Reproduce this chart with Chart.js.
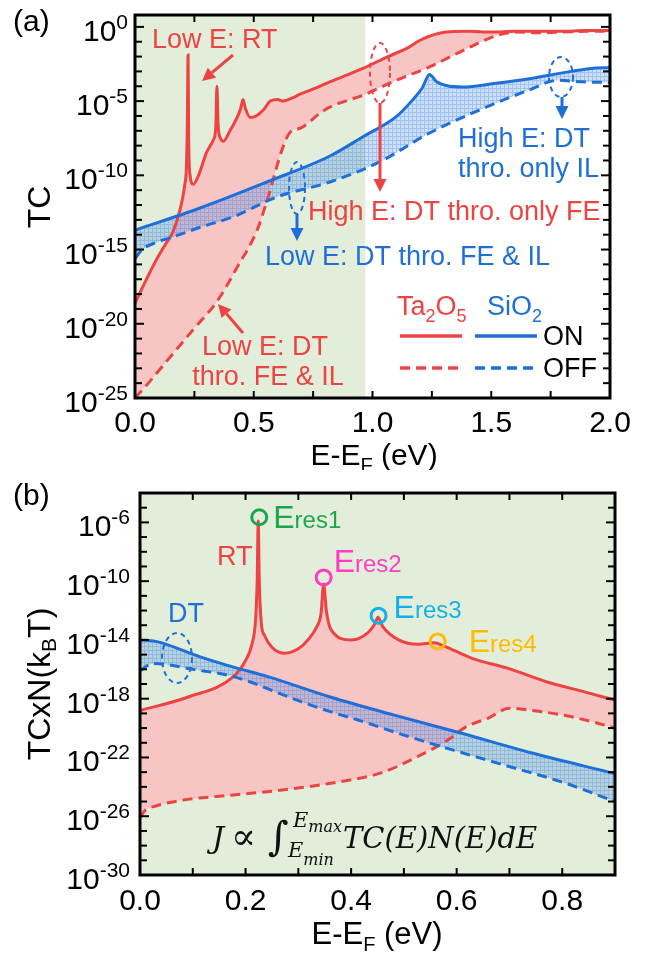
<!DOCTYPE html>
<html>
<head>
<meta charset="utf-8">
<title>TC vs E-EF</title>
<script src="https://cdn.jsdelivr.net/npm/chart.js@4.4.1/dist/chart.umd.min.js"></script>
<style>
  html, body { margin: 0; padding: 0; background: #fff; }
  body { width: 658px; height: 958px; position: relative; overflow: hidden; }
  canvas { position: absolute; left: 0; }
  #chartA { top: 0; }
  #chartB { top: 470px; }
</style>
</head>
<body>
<canvas id="chartA" width="658" height="470"></canvas>
<canvas id="chartB" width="658" height="488"></canvas>
<script>
// ---- panel (a): E-EF (eV) y log10(TC) ----
const eTaOnA = [0, 0.03, 0.07, 0.10, 0.13, 0.16, 0.19, 0.21, 0.216, 0.220, 0.2235, 0.226, 0.232, 0.245, 0.27, 0.30, 0.33, 0.340, 0.345, 0.350, 0.36, 0.372, 0.40, 0.43, 0.445, 0.455, 0.465, 0.485, 0.51, 0.54, 0.57, 0.60, 0.625, 0.66, 0.70, 0.765, 0.82, 0.90, 0.96, 1.065, 1.15, 1.20, 1.31, 1.40, 1.50, 1.60, 1.70, 1.80, 1.90, 2.00];
const logTaOnA = [-18.6, -17.6, -16.3, -15.4, -14.6, -13.8, -12.3, -10.6, -9.6, -7.0, -1.9, -7.5, -10.0, -10.6, -9.9, -8.5, -7.6, -6.8, -4.0, -6.6, -7.5, -7.7, -7.0, -6.1, -5.5, -4.9, -5.5, -6.1, -6.0, -5.6, -5.0, -4.9, -5.0, -4.8, -4.5, -4.1, -3.7, -3.2, -2.8, -2.0, -1.4, -0.9, -0.35, -0.3, -0.35, -0.3, -0.3, -0.3, -0.25, -0.25];
const eTaOffA = [0, 0.04, 0.15, 0.25, 0.345, 0.43, 0.514, 0.556, 0.623, 0.653, 0.70, 0.78, 0.82, 0.96, 1.10, 1.24, 1.38, 1.52, 1.61, 1.70, 1.80, 1.90, 2.00];
const logTaOffA = [-25.0, -24.3, -22.2, -20.3, -18.5, -16.2, -13.7, -11.7, -8.1, -7.1, -6.8, -5.8, -5.4, -4.6, -3.6, -2.7, -1.6, -0.6, -0.35, -0.4, -0.35, -0.3, -0.3];
const eSiOnA = [0, 0.274, 0.555, 0.821, 0.96, 1.10, 1.17, 1.21, 1.24, 1.27, 1.31, 1.38, 1.52, 1.66, 1.80, 1.92, 2.00];
const logSiOnA = [-13.7, -12.2, -10.45, -8.7, -7.4, -6.05, -4.9, -4.1, -3.2, -3.7, -3.95, -4.05, -3.8, -3.5, -3.1, -2.8, -2.75];
const eSiOffA = [0, 0.03, 0.093, 0.16, 0.274, 0.413, 0.598, 0.821, 1.03, 1.24, 1.45, 1.66, 1.78, 1.88, 2.00];
const logSiOffA = [-15.6, -15.0, -14.5, -14.15, -13.5, -12.8, -11.45, -10.45, -9.1, -7.15, -5.6, -4.25, -3.6, -3.7, -3.75];

// ---- panel (b): E-EF (eV) y log10(TC x N) ----
const eTaOnB = [0, 0.09, 0.177, 0.20, 0.212, 0.219, 0.222, 0.224, 0.226, 0.23, 0.236, 0.25, 0.273, 0.30, 0.318, 0.335, 0.343, 0.348, 0.353, 0.362, 0.40, 0.432, 0.445, 0.451, 0.46, 0.49, 0.527, 0.558, 0.575, 0.629, 0.699, 0.775, 0.844, 0.90];
const logTaOnB = [-18.8, -17.9, -16.5, -15.4, -14.3, -12.6, -10.0, -5.9, -10.0, -12.9, -13.7, -14.5, -14.9, -14.6, -14.0, -13.1, -12.2, -10.2, -12.0, -13.3, -14.0, -13.5, -12.9, -12.45, -13.1, -14.0, -14.3, -14.2, -14.4, -15.25, -15.95, -16.9, -17.55, -18.1];
const eTaOffB = [0, 0.01, 0.03, 0.082, 0.177, 0.273, 0.362, 0.457, 0.52, 0.584, 0.616, 0.661, 0.70, 0.743, 0.806, 0.86, 0.90];
const logTaOffB = [-26.1, -25.6, -25.3, -24.9, -24.55, -24.2, -23.75, -23.05, -22.05, -20.8, -19.95, -19.3, -18.65, -18.8, -19.15, -19.6, -20.0];
const eSiOnB = [0, 0.03, 0.114, 0.177, 0.242, 0.362, 0.48, 0.604, 0.743, 0.90];
const logSiOnB = [-14.0, -14.1, -15.15, -15.85, -16.5, -17.9, -19.1, -20.3, -21.7, -23.1];
const eSiOffB = [0, 0.025, 0.1, 0.177, 0.305, 0.362, 0.413, 0.489, 0.584, 0.679, 0.806, 0.90];
const logSiOffB = [-16.1, -15.6, -16.0, -16.5, -18.2, -18.9, -19.45, -20.35, -21.4, -22.4, -23.75, -25.0];

// resonancias marcadas en (b)
const eRes = [0.226, 0.348, 0.452, 0.564];
const logRes = [-5.65, -9.75, -12.35, -14.1];
const resNames = ['res1', 'res2', 'res3', 'res4'];
const resColors = ['#1ca64c', '#ff3cc3', '#16b0e8', '#ffbb00'];

// ticks
const xLabelsA = [0, 0.5, 1.0, 1.5, 2.0];
const xTicksA = [0.25, 0.5, 0.75, 1.0, 1.25, 1.5, 1.75];
const yLabelsA = [0, -5, -10, -15, -20, -25];
const xLabelsB = [0, 0.2, 0.4, 0.6, 0.8];
const xTicksB = [0.1, 0.2, 0.3, 0.4, 0.5, 0.6, 0.7, 0.8];
const yLabelsB = [-6, -10, -14, -18, -22, -26, -30];

const RED = '#ee4343';
const BLUE = '#1f6fd8';
const GREEN_BG = 'rgb(226,238,218)';
const PINK = 'rgb(248,197,197)';
const FONT = '"Liberation Sans", Arial, sans-serif';
const SERIF = '"DejaVu Serif", "Liberation Serif", serif';

function font(size) { return size + 'px ' + FONT; }

function pts(xs, logs) {
    return xs.map((x, i) => ({ x: x, y: Math.pow(10, logs[i]) }));
}

// Texto con subindices / superindices
function rich(ctx, x, y, parts, align) {
    let w = 0;
    parts.forEach(p => { ctx.font = p.f; p.w = ctx.measureText(p.t).width; w += p.w; });
    let cx = align === 'center' ? x - w / 2 : align === 'right' ? x - w : x;
    ctx.textAlign = 'left';
    ctx.textBaseline = 'alphabetic';
    parts.forEach(p => {
        ctx.font = p.f;
        ctx.fillStyle = p.c || '#000';
        ctx.fillText(p.t, cx, y + (p.dy || 0));
        cx += p.w;
    });
}

function vtext(ctx, x, y, parts) {
    ctx.save();
    ctx.translate(x, y);
    ctx.rotate(-Math.PI / 2);
    rich(ctx, 0, 0, parts, 'center');
    ctx.restore();
}

function line(ctx, x1, y1, x2, y2) {
    ctx.beginPath(); ctx.moveTo(x1, y1); ctx.lineTo(x2, y2); ctx.stroke();
}

function arrow(ctx, x1, y1, x2, y2, color) {
    const ang = Math.atan2(y2 - y1, x2 - x1), hl = 13, hw = 6.5;
    const bx = x2 - hl * Math.cos(ang), by = y2 - hl * Math.sin(ang);
    ctx.strokeStyle = color; ctx.fillStyle = color; ctx.lineWidth = 3; ctx.setLineDash([]);
    line(ctx, x1, y1, bx, by);
    ctx.beginPath();
    ctx.moveTo(x2, y2);
    ctx.lineTo(bx + hw * Math.sin(ang), by - hw * Math.cos(ang));
    ctx.lineTo(bx - hw * Math.sin(ang), by + hw * Math.cos(ang));
    ctx.closePath();
    ctx.fill();
}

function ellipse(ctx, cx, cy, rx, ry, color) {
    ctx.strokeStyle = color; ctx.lineWidth = 2; ctx.setLineDash([5, 4]);
    ctx.beginPath(); ctx.ellipse(cx, cy, rx, ry, 0, 0, Math.PI * 2); ctx.stroke();
    ctx.setLineDash([]);
}

// Patron cuadriculado para el relleno azul
function hatch(canvasId) {
    const t = document.createElement('canvas');
    t.width = 4; t.height = 4;
    const c = t.getContext('2d');
    c.fillStyle = 'rgba(60,130,230,0.25)';
    c.fillRect(0, 0, 4, 4);
    c.fillStyle = 'rgba(60,130,230,0.32)';
    c.fillRect(0, 0, 4, 1);
    c.fillRect(0, 1, 1, 3);
    return document.getElementById(canvasId).getContext('2d').createPattern(t, 'repeat');
}

// Fondo verde, marco, ticks hacia dentro, etiquetas y anotaciones
function axesPlugin(cfg) {
    return {
        id: 'ejes',
        beforeDraw(chart) {
            const { ctx, chartArea: a } = chart;
            const xr = chart.scales.x.getPixelForValue(cfg.greenTo);
            ctx.save();
            ctx.fillStyle = GREEN_BG;
            ctx.fillRect(a.left, a.top, xr - a.left, a.height);
            ctx.restore();
        },
        afterDraw(chart) {
            const { ctx, chartArea: a } = chart;
            const xs = chart.scales.x, ys = chart.scales.y;
            ctx.save();
            ctx.strokeStyle = '#000';
            ctx.lineWidth = 2;
            ctx.setLineDash([]);
            cfg.xTicks.forEach(v => {
                const px = xs.getPixelForValue(v);
                line(ctx, px, a.bottom, px, a.bottom - 7);
                line(ctx, px, a.top, px, a.top + 7);
            });
            for (let e = cfg.yMin; e <= cfg.yMax; e++) {
                const py = ys.getPixelForValue(Math.pow(10, e));
                const L = cfg.yLabels.includes(e) ? 9 : 7;
                line(ctx, a.left, py, a.left + L, py);
                line(ctx, a.right, py, a.right - L, py);
            }
            ctx.lineWidth = 3;
            ctx.strokeRect(a.left, a.top, a.width, a.height);

            cfg.xLabels.forEach(v => {
                rich(ctx, xs.getPixelForValue(v), cfg.xLabelY, [{ t: v.toFixed(1), f: font(30) }], 'center');
            });
            cfg.yLabels.forEach(e => {
                const py = ys.getPixelForValue(Math.pow(10, e));
                rich(ctx, cfg.yLabelX, py + 14, [
                    { t: '10', f: font(30) },
                    { t: String(e), f: font(21), dy: -12 }
                ], 'right');
            });
            cfg.draw(ctx, chart);
            ctx.restore();
        }
    };
}

function lineSet(data, color, dashed, fill, bg) {
    return {
        data: data,
        borderColor: color,
        borderWidth: 3,
        borderDash: dashed ? [10, 6] : [],
        pointRadius: 0,
        cubicInterpolationMode: 'monotone',
        fill: fill || false,
        backgroundColor: bg || 'transparent'
    };
}

function baseOptions(padding, xMax, yMin, yMax) {
    return {
        responsive: false,
        animation: false,
        devicePixelRatio: 1,
        layout: { padding: padding },
        plugins: {
            legend: { display: false },
            tooltip: { enabled: false },
            // todos los rellenos antes que las lineas
            filler: { propagate: false, drawTime: 'beforeDatasetsDraw' }
        },
        scales: {
            x: { type: 'linear', min: 0, max: xMax, display: false },
            y: { type: 'logarithmic', min: yMin, max: yMax, display: false }
        }
    };
}

// ---------------- Panel (a) ----------------
function drawA(ctx) {
    rich(ctx, 13, 31, [{ t: '(a)', f: font(30) }]);
    rich(ctx, 152, 48, [{ t: 'Low E: RT', f: font(27), c: RED }]);
    arrow(ctx, 233, 55, 202, 81, RED);
    ellipse(ctx, 380, 73, 10, 30, RED);
    arrow(ctx, 380, 103, 380, 192, RED);
    rich(ctx, 308, 220, [{ t: 'High E: DT thro. only FE', f: font(27), c: RED }]);
    ellipse(ctx, 561, 77, 12, 20, BLUE);
    arrow(ctx, 562, 97, 562, 119, BLUE);
    rich(ctx, 458, 147, [{ t: 'High E: DT', f: font(27), c: BLUE }]);
    rich(ctx, 458, 177, [{ t: 'thro. only IL', f: font(27), c: BLUE }]);
    ellipse(ctx, 297, 188, 8, 26, BLUE);
    arrow(ctx, 297, 214, 297, 241, BLUE);
    rich(ctx, 265, 265, [{ t: 'Low E: DT thro. FE & IL', f: font(27), c: BLUE }]);
    rich(ctx, 265, 355, [{ t: 'Low E: DT', f: font(27), c: RED }], 'center');
    rich(ctx, 268, 385, [{ t: 'thro. FE & IL', f: font(27), c: RED }], 'center');
    arrow(ctx, 243, 333, 218, 304, RED);

    // leyenda
    rich(ctx, 397, 315, [
        { t: 'Ta', f: font(27), c: RED }, { t: '2', f: font(18), c: RED, dy: 7 },
        { t: 'O', f: font(27), c: RED }, { t: '5', f: font(18), c: RED, dy: 7 }
    ]);
    rich(ctx, 487, 315, [
        { t: 'SiO', f: font(27), c: BLUE }, { t: '2', f: font(18), c: BLUE, dy: 7 }
    ]);
    ctx.lineWidth = 3.5;
    ctx.strokeStyle = RED; line(ctx, 400, 336, 462, 336);
    ctx.strokeStyle = BLUE; line(ctx, 475, 336, 537, 336);
    ctx.setLineDash([10, 6]);
    ctx.strokeStyle = RED; line(ctx, 400, 368, 462, 368);
    ctx.strokeStyle = BLUE; line(ctx, 475, 368, 537, 368);
    ctx.setLineDash([]);
    rich(ctx, 543, 345, [{ t: 'ON', f: font(27) }]);
    rich(ctx, 543, 377, [{ t: 'OFF', f: font(27) }]);

    // titulos de ejes
    rich(ctx, 374, 465, [
        { t: 'E-E', f: font(30) }, { t: 'F', f: font(20), dy: 7 }, { t: ' (eV)', f: font(30) }
    ], 'center');
    vtext(ctx, 50, 207, [{ t: 'TC', f: font(32) }]);
}

const chartA = new Chart(document.getElementById('chartA'), {
    type: 'line',
    data: {
        datasets: [
            lineSet(pts(eSiOnA, logSiOnA), BLUE, false, '+1', hatch('chartA')),
            lineSet(pts(eSiOffA, logSiOffA), BLUE, true),
            lineSet(pts(eTaOnA, logTaOnA), RED, false, '+1', PINK),
            lineSet(pts(eTaOffA, logTaOffA), RED, true)
        ]
    },
    options: baseOptions({ left: 135, top: 15, right: 48, bottom: 72 }, 2.0, 1e-25, Math.pow(10, 0.8)),
    plugins: [axesPlugin({
        greenTo: 0.97,
        xTicks: xTicksA, xLabels: xLabelsA, xLabelY: 432,
        yMin: -25, yMax: 0, yLabels: yLabelsA, yLabelX: 128,
        draw: drawA
    })]
});

// ---------------- Panel (b) ----------------
function drawB(ctx, chart) {
    rich(ctx, 13, 35, [{ t: '(b)', f: font(30) }]);
    rich(ctx, 217, 95, [{ t: 'RT', f: font(27), c: RED }]);
    rich(ctx, 168, 152, [{ t: 'DT', f: font(27), c: BLUE }]);
    ellipse(ctx, 177, 188, 15, 25, BLUE);

    // etiquetas de resonancia junto a los circulos
    const xs = chart.scales.x, ys = chart.scales.y;
    const offs = [[14, 11], [10, -5], [15, 2], [31, 11]];
    eRes.forEach((e, i) => {
        const px = xs.getPixelForValue(e) + offs[i][0];
        const py = ys.getPixelForValue(Math.pow(10, logRes[i])) + offs[i][1];
        rich(ctx, px, py, [
            { t: 'E', f: font(32), c: resColors[i] },
            { t: resNames[i], f: font(24), c: resColors[i] }
        ]);
    });

    // formula
    const ink = '#111';
    rich(ctx, 212, 378, [{ t: 'J', f: 'italic 30px ' + SERIF, c: ink }]);
    rich(ctx, 231, 379, [{ t: '\u221D', f: '37px ' + SERIF, c: ink }]);
    rich(ctx, 268, 380, [{ t: '\u222B', f: 'italic 40px ' + SERIF, c: ink }]);
    rich(ctx, 293, 357, [{ t: 'E', f: 'italic 21px ' + SERIF, c: ink }, { t: 'max', f: 'italic 16px ' + SERIF, c: ink, dy: 5 }]);
    rich(ctx, 288, 387, [{ t: 'E', f: 'italic 21px ' + SERIF, c: ink }, { t: 'min', f: 'italic 16px ' + SERIF, c: ink, dy: 8 }]);
    rich(ctx, 343, 378, [{ t: 'TC(E)N(E)dE', f: 'italic 29px ' + SERIF, c: ink }]);

    // titulos de ejes
    rich(ctx, 377, 474, [
        { t: 'E-E', f: font(31) }, { t: 'F', f: font(20), dy: 7 }, { t: ' (eV)', f: font(31) }
    ], 'center');
    vtext(ctx, 50, 214, [
        { t: 'TCxN(k', f: font(32) }, { t: 'B', f: font(21), dy: 6 }, { t: 'T)', f: font(32) }
    ]);
}

const chartB = new Chart(document.getElementById('chartB'), {
    type: 'line',
    data: {
        datasets: [
            {
                data: pts(eRes, logRes),
                showLine: false,
                pointRadius: 7.5,
                pointBorderWidth: 3,
                pointBorderColor: resColors,
                pointBackgroundColor: 'rgba(0,0,0,0)',
                fill: false
            },
            lineSet(pts(eSiOnB, logSiOnB), BLUE, false, '+1', hatch('chartB')),
            lineSet(pts(eSiOffB, logSiOffB), BLUE, true),
            lineSet(pts(eTaOnB, logTaOnB), RED, false, '+1', PINK),
            lineSet(pts(eTaOffB, logTaOffB), RED, true)
        ]
    },
    options: baseOptions({ left: 140, top: 23, right: 43, bottom: 83 }, 0.9, 1e-30, 1e-4),
    plugins: [axesPlugin({
        greenTo: 0.9,
        xTicks: xTicksB, xLabels: xLabelsB, xLabelY: 440,
        yMin: -30, yMax: -4, yLabels: yLabelsB, yLabelX: 130,
        draw: drawB
    })]
});
</script>
</body>
</html>
